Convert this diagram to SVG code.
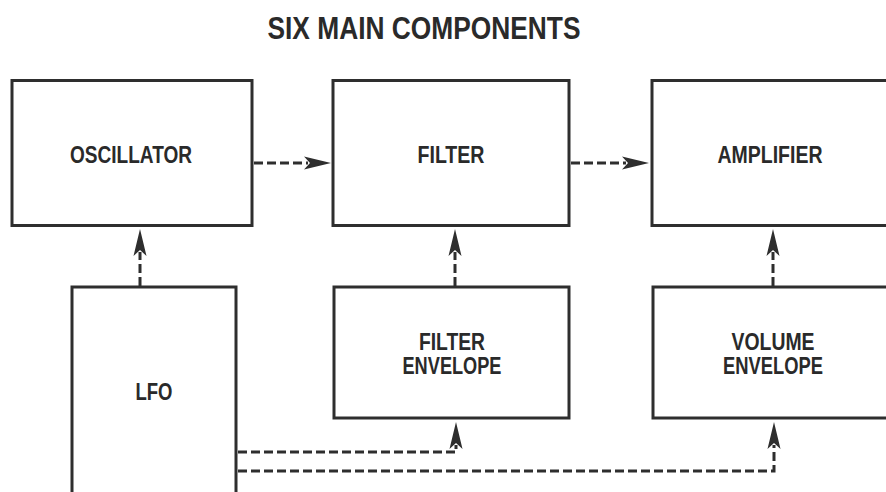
<svg xmlns="http://www.w3.org/2000/svg" width="886" height="492" viewBox="0 0 886 492">
<style>
.box{fill:#fff;stroke:#2e2e2e;stroke-width:3}
.lbl{font-family:"Liberation Sans",Arial,sans-serif;font-weight:bold;font-size:23px;fill:#2a2a2a;text-anchor:middle}
.title{font-family:"Liberation Sans",Arial,sans-serif;font-weight:bold;font-size:32px;fill:#2a2a2a;text-anchor:middle}
.con{fill:none;stroke:#2e2e2e;stroke-width:3;stroke-dasharray:9 4}
</style>
<defs>
<marker id="ah" markerUnits="userSpaceOnUse" markerWidth="34" markerHeight="16" viewBox="-2 -8 34 16" refX="4" refY="0" orient="auto" overflow="visible">
<path d="M0,-6.5 L27,0 L0,6.5 L6,0 Z" fill="#2e2e2e"/>
</marker>
</defs>
<rect width="886" height="492" fill="#fff"/>
<text class="title" x="424" y="39" textLength="313" lengthAdjust="spacingAndGlyphs">SIX MAIN COMPONENTS</text>
<g id="oscillator"><rect class="box" x="12" y="80.5" width="240" height="145"/><text class="lbl" x="131" y="163" textLength="122" lengthAdjust="spacingAndGlyphs">OSCILLATOR</text></g>
<g id="filter"><rect class="box" x="333" y="80.5" width="236" height="145"/><text class="lbl" x="451" y="163" textLength="67" lengthAdjust="spacingAndGlyphs">FILTER</text></g>
<g id="amplifier"><rect class="box" x="652" y="80.5" width="260" height="145"/><text class="lbl" x="770" y="163" textLength="105" lengthAdjust="spacingAndGlyphs">AMPLIFIER</text></g>
<g id="lfo"><rect class="box" x="72" y="287" width="164" height="240"/><text class="lbl" x="154" y="400" textLength="37" lengthAdjust="spacingAndGlyphs">LFO</text></g>
<g id="filter-envelope"><rect class="box" x="334" y="287" width="235" height="131"/><text class="lbl" x="452" y="350" textLength="66" lengthAdjust="spacingAndGlyphs">FILTER</text><text class="lbl" x="452" y="374" textLength="99" lengthAdjust="spacingAndGlyphs">ENVELOPE</text></g>
<g id="volume-envelope"><rect class="box" x="653" y="287" width="260" height="131"/><text class="lbl" x="773" y="350" textLength="83" lengthAdjust="spacingAndGlyphs">VOLUME</text><text class="lbl" x="773" y="374" textLength="100" lengthAdjust="spacingAndGlyphs">ENVELOPE</text></g>
<g id="connectors">
<path class="con" d="M254,163 H308" marker-end="url(#ah)"/>
<path class="con" d="M571,163 H626" marker-end="url(#ah)"/>
<path class="con" d="M140,286 V252" marker-end="url(#ah)"/>
<path class="con" d="M455,286 V252" marker-end="url(#ah)"/>
<path class="con" d="M773,286 V252" marker-end="url(#ah)"/>
<path class="con" d="M238,452 H456 V445" marker-end="url(#ah)"/>
<path class="con" d="M238,471 H774 V445" marker-end="url(#ah)"/>
</g>
</svg>
